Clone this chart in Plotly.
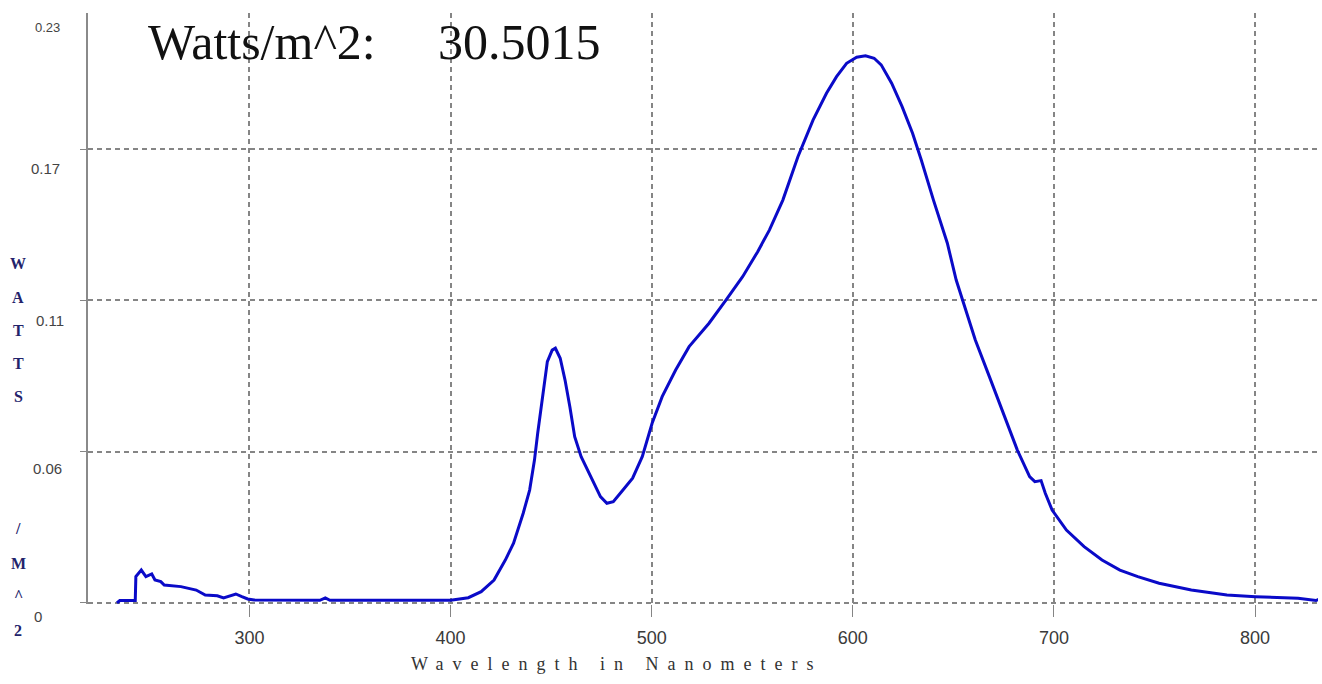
import plotly.graph_objects as go

# ---- data (wavelength in nm, irradiance in W/m^2/nm) ----
wavelength_nm = [
    234.1, 235.5, 243.2, 243.5, 246.2, 248.5, 251.4, 253.0, 255.9, 257.6,
    265.9, 273.5, 278.0, 284.0, 287.1, 293.2, 296.2, 299.1, 302.3, 320.0,
    335.0, 337.7, 340.0, 360.0, 380.0, 400.0, 408.8, 415.2, 421.6, 427.2,
    431.3, 436.1, 439.3, 441.7, 443.3, 444.9, 446.5, 448.1, 450.5, 452.1,
    454.5, 456.9, 459.3, 461.7, 464.9, 469.7, 474.5, 477.7, 480.9, 485.7,
    490.5, 495.3, 500.2, 505.2, 511.9, 518.6, 528.5, 536.9, 545.2, 552.7,
    558.5, 565.2, 572.7, 580.2, 586.9, 591.9, 596.9, 601.9, 606.3, 610.6,
    614.1, 619.3, 624.5, 629.7, 634.0, 640.1, 647.0, 651.4, 655.7, 660.9,
    667.9, 674.8, 681.8, 687.9, 690.5, 693.6, 695.7, 699.1, 706.2, 715.0,
    723.9, 732.8, 741.7, 752.3, 768.3, 786.0, 800.2, 821.4, 830.3, 833.0,
    838.3,
]
irradiance = [
    0.0000, 0.0009, 0.0009, 0.0100, 0.0125, 0.0100, 0.0110, 0.0087, 0.0081, 0.0068,
    0.0062, 0.0049, 0.0030, 0.0027, 0.0019, 0.0034, 0.0024, 0.0015, 0.0011, 0.0010,
    0.0010, 0.0019, 0.0010, 0.0010, 0.0010, 0.0010, 0.0020, 0.0043, 0.0087, 0.0163,
    0.0227, 0.0341, 0.0429, 0.0543, 0.0645, 0.0733, 0.0835, 0.0917, 0.0961, 0.0968,
    0.0930, 0.0847, 0.0746, 0.0632, 0.0556, 0.0480, 0.0404, 0.0379, 0.0385, 0.0429,
    0.0474, 0.0556, 0.0683, 0.0784, 0.0885, 0.0974, 0.1063, 0.1151, 0.1240, 0.1335,
    0.1417, 0.1531, 0.1696, 0.1835, 0.1937, 0.2000, 0.2051, 0.2074, 0.2079, 0.2070,
    0.2045, 0.1975, 0.1886, 0.1785, 0.1684, 0.1531, 0.1367, 0.1227, 0.1126, 0.0999,
    0.0860, 0.0721, 0.0581, 0.0480, 0.0461, 0.0465, 0.0417, 0.0353, 0.0277, 0.0214,
    0.0163, 0.0125, 0.0100, 0.0075, 0.0049, 0.0030, 0.0024, 0.0018, 0.0009, 0.0018,
    0.0018,
]

x_tick_vals = [300, 400, 500, 600, 700, 800]
x_tick_text = ["300", "400", "500", "600", "700", "800"]
y_tick_vals = [0, 0.0575, 0.115, 0.1725]
y_tick_text = ["0", "0.06", "0.11", "0.17"]
y_top_label = "0.23"
total_label = "Watts/m^2:"
total_value = "30.5015"
x_title = "Wavelength in Nanometers"
y_title_letters = ["W", "A", "T", "T", "S", "/", "M", "^", "2"]

# ---- layout geometry (pixels) ----
W, H = 1322, 684
L, R, T, B = 88, 4, 13, 80
PW, PH = W - L - R, H - T - B


def px_x(px):
    return (px - L) / PW


def px_y(py):
    return 1 - (py - T) / PH


GRID = "#858585"

fig = go.Figure()
fig.add_trace(go.Scatter(
    x=wavelength_nm, y=irradiance, mode="lines",
    line=dict(color="#0a0ac8", width=3), hoverinfo="x+y", showlegend=False,
))

fig.update_layout(
    width=W, height=H,
    margin=dict(l=L, r=R, t=T, b=B),
    paper_bgcolor="white", plot_bgcolor="white",
    showlegend=False,
)

fig.update_xaxes(
    range=[219.7, 831.3],
    tickvals=x_tick_vals, ticktext=x_tick_text,
    showgrid=True, gridcolor=GRID, gridwidth=1.5, griddash="5px,4px",
    zeroline=False, showline=False,
    ticks="outside", ticklen=12, tickcolor=GRID, tickwidth=1,
    tickfont=dict(family="Liberation Sans", size=18, color="#3a3a3a"),
    ticklabelstandoff=5,
)
fig.update_yaxes(
    range=[-0.0004, 0.2242],
    tickvals=y_tick_vals,
    showticklabels=False,
    showgrid=True, gridcolor=GRID, gridwidth=1.5, griddash="5px,4px",
    zeroline=False, showline=True, linecolor="#8a8a8a", linewidth=1.5,
    ticks="outside", ticklen=6, tickcolor=GRID, tickwidth=1,
)

ann = []
# y tick labels (placed below their grid lines, as in the reference)
y_label_px = [(38, 14), (47, 17), (50, 20), (45, 19)]
for v, t, (xp, shift) in zip(y_tick_vals, y_tick_text, y_label_px):
    ann.append(dict(
        xref="paper", yref="y", x=px_x(xp), y=v, yshift=-shift,
        text=t, showarrow=False, xanchor="center", yanchor="middle",
        font=dict(family="Liberation Sans", size=15, color="#444444"),
    ))
ann.append(dict(
    xref="paper", yref="paper", x=px_x(47), y=px_y(28),
    text=y_top_label, showarrow=False, xanchor="center", yanchor="middle",
    font=dict(family="Liberation Sans", size=13, color="#444444"),
))

# vertical stacked y title
letter_y_px = [263, 297, 330, 363, 396, 528, 563, 595, 630]
for ch, yp in zip(y_title_letters, letter_y_px):
    ann.append(dict(
        xref="paper", yref="paper", x=px_x(18), y=px_y(yp),
        text="<b>%s</b>" % ch, showarrow=False, xanchor="center", yanchor="middle",
        font=dict(family="Liberation Serif", size=16, color="#23236b"),
    ))

# x title
ann.append(dict(
    xref="paper", yref="paper", x=px_x(617), y=px_y(664),
    text='<span style="letter-spacing:9px">%s</span>' % x_title,
    showarrow=False, xanchor="center", yanchor="middle",
    font=dict(family="Liberation Serif", size=18, color="#333333"),
))

# total irradiance header
ann.append(dict(
    xref="paper", yref="paper", x=px_x(146), y=px_y(42),
    text=total_label, showarrow=False, xanchor="left", yanchor="middle",
    font=dict(family="Liberation Serif", size=50, color="#111111"),
))
ann.append(dict(
    xref="paper", yref="paper", x=px_x(436), y=px_y(42),
    text=total_value, showarrow=False, xanchor="left", yanchor="middle",
    font=dict(family="Liberation Serif", size=50, color="#111111"),
))

fig.update_layout(annotations=ann)
fig.write_html(
    "out.html",
    config={"displayModeBar": False},
    post_script="document.body.style.margin='0';document.body.style.overflow='hidden';",
)
